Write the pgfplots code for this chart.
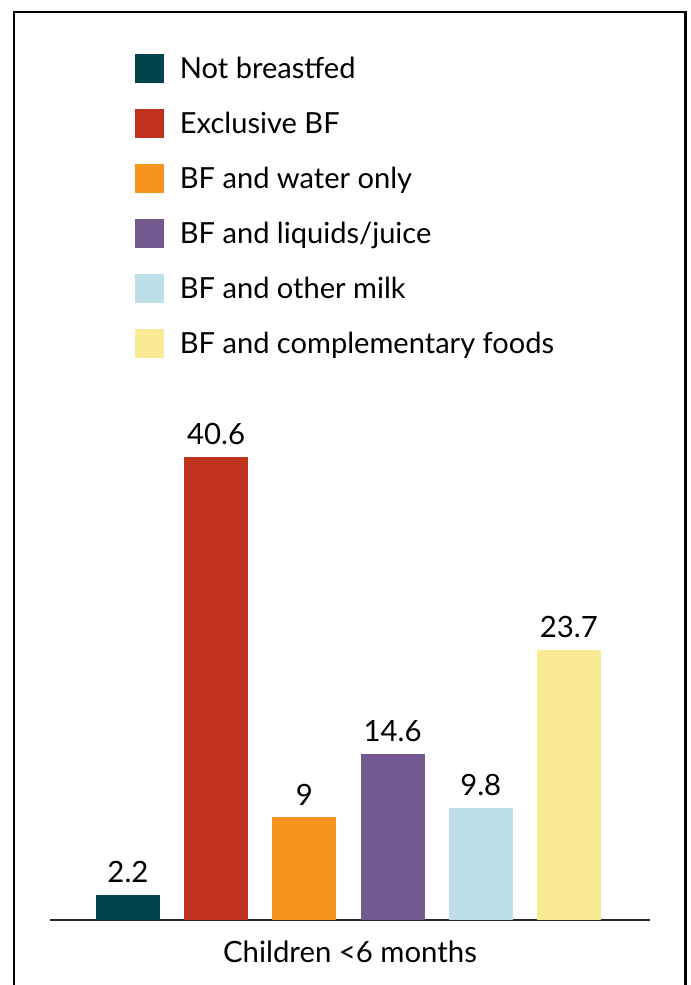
\documentclass[border=0pt]{standalone}
\usepackage{pgfplots}
\pgfplotsset{compat=1.18}
\usepackage{fontspec}
\setmainfont{Lato}

\definecolor{cTeal}{HTML}{02434D}
\definecolor{cRed}{HTML}{C0321D}
\definecolor{cOrange}{HTML}{F7941E}
\definecolor{cPurple}{HTML}{735990}
\definecolor{cBlue}{HTML}{BDDFE7}
\definecolor{cYellow}{HTML}{FAEA96}

\begin{document}
\begin{tikzpicture}
\useasboundingbox (-37.5pt,-48.75pt) rectangle (480pt,690pt);
% frame (open at the bottom, as in the source)
\draw[line width=1.5pt] (-26.8pt,-60pt) -- (-26.8pt,681pt) -- (476.5pt,681pt);
\draw[line width=2.5pt] (476.5pt,681.75pt) -- (476.5pt,-60pt);

\begin{axis}[
	scale only axis,
	width=450pt, height=360pt,
	ybar, bar shift=0pt, bar width=48pt,
	xmin=-0.884, xmax=5.919,
	ymin=0, ymax=42.1,
	axis x line=bottom, axis y line=none,
	x axis line style={-, line width=1.6pt, draw=black!85},
	xtick=\empty, ytick=\empty,
	xlabel={Children <6 months},
	xlabel style={at={(axis description cs:0.5,0)}, anchor=base, yshift=-31.5pt,
		font=\fontsize{22}{26}\selectfont},
	nodes near coords,
	/pgf/number format/assume math mode=true,
	every node near coord/.append style={inner sep=0pt, yshift=9pt,
		font=\fontsize{22}{26}\selectfont, text=black},
	clip=false,
	legend style={at={(0.14167,1.804)}, anchor=north west, draw=none,
		inner sep=0pt, row sep=18pt, column sep=12pt,
		nodes={inner sep=0pt, anchor=base west, text height=15pt, text depth=5pt},
		font=\fontsize{21.8}{25}\selectfont},
	legend cell align=left,
	legend image code/.code={\fill[#1] (0pt,-3.25pt) rectangle (21.5pt,18.25pt);},
]
\addplot[fill=cTeal, draw=none] coordinates {(0,2.2)};
\addplot[fill=cRed, draw=none] coordinates {(1,40.6)};
\addplot[fill=cOrange, draw=none] coordinates {(2,9)};
\addplot[fill=cPurple, draw=none] coordinates {(3,14.6)};
\addplot[fill=cBlue, draw=none] coordinates {(4,9.8)};
\addplot[fill=cYellow, draw=none] coordinates {(5,23.7)};
\legend{Not breastfed, Exclusive BF, BF and water only, BF and liquids/juice,
	BF and other milk, BF and complementary foods}
\end{axis}
\end{tikzpicture}
\end{document}
